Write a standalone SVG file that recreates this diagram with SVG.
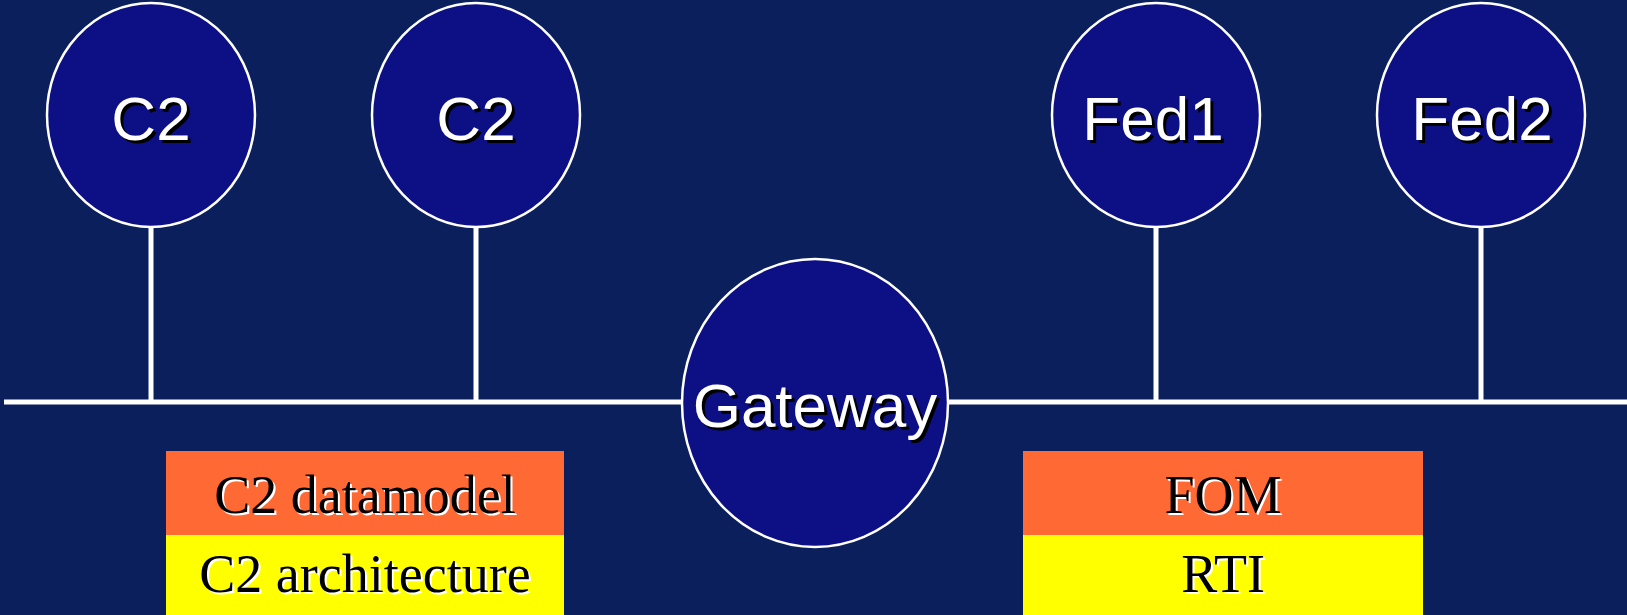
<svg xmlns="http://www.w3.org/2000/svg" width="1627" height="615" viewBox="0 0 1627 615">
<style>
.node{fill:#0D0F85;stroke:#FFFFFF;stroke-width:2.5}
.wire{stroke:#FFFFFF;stroke-width:5;fill:none}
.lbl{font-family:"Liberation Sans",Arial,sans-serif;font-size:62px;text-anchor:middle}
.lbl.sh{fill:#000000}
.lbl.fg{fill:#FFFFFF}
.blbl{font-family:"Liberation Serif","Times New Roman",serif;font-size:54px;text-anchor:middle}
.blbl.sh{fill:#FFFFFF}
.blbl.fg{fill:#000000}
</style>
<rect x="0" y="0" width="1627" height="615" fill="#0A1F5C"/>
<g id="connectors">
<line class="wire" x1="4" y1="402" x2="684" y2="402"/>
<line class="wire" x1="946" y1="402" x2="1627" y2="402"/>
<line class="wire" x1="151" y1="226" x2="151" y2="402"/>
<line class="wire" x1="476" y1="226" x2="476" y2="402"/>
<line class="wire" x1="1156" y1="226" x2="1156" y2="402"/>
<line class="wire" x1="1481" y1="226" x2="1481" y2="402"/>
</g>
<g id="c2a">
<ellipse class="node" cx="151" cy="115" rx="104" ry="112"/>
<text class="lbl sh" x="154" y="143">C2</text>
<text class="lbl fg" x="151" y="140">C2</text>
</g>
<g id="c2b">
<ellipse class="node" cx="476" cy="115" rx="104" ry="112"/>
<text class="lbl sh" x="479" y="143">C2</text>
<text class="lbl fg" x="476" y="140">C2</text>
</g>
<g id="fed1">
<ellipse class="node" cx="1156" cy="115" rx="104" ry="112"/>
<text class="lbl sh" x="1156" y="143">Fed1</text>
<text class="lbl fg" x="1153" y="140">Fed1</text>
</g>
<g id="fed2">
<ellipse class="node" cx="1481" cy="115" rx="104" ry="112"/>
<text class="lbl sh" x="1485" y="143">Fed2</text>
<text class="lbl fg" x="1482" y="140">Fed2</text>
</g>
<g id="gateway">
<ellipse class="node" cx="815" cy="403" rx="133" ry="144"/>
<text class="lbl sh" x="818" y="430">Gateway</text>
<text class="lbl fg" x="815" y="427">Gateway</text>
</g>
<g id="c2stack">
<rect x="166" y="451" width="398" height="84" fill="#FF6933"/>
<rect x="166" y="535" width="398" height="80" fill="#FFFF00"/>
<text class="blbl sh" x="367" y="515">C2 datamodel</text>
<text class="blbl fg" x="365" y="513">C2 datamodel</text>
<text class="blbl sh" x="367" y="594">C2 architecture</text>
<text class="blbl fg" x="365" y="592">C2 architecture</text>
</g>
<g id="hlastack">
<rect x="1023" y="451" width="400" height="84" fill="#FF6933"/>
<rect x="1023" y="535" width="400" height="80" fill="#FFFF00"/>
<text class="blbl sh" x="1225" y="515">FOM</text>
<text class="blbl fg" x="1223" y="513">FOM</text>
<text class="blbl sh" x="1225" y="594">RTI</text>
<text class="blbl fg" x="1223" y="592">RTI</text>
</g>
</svg>
